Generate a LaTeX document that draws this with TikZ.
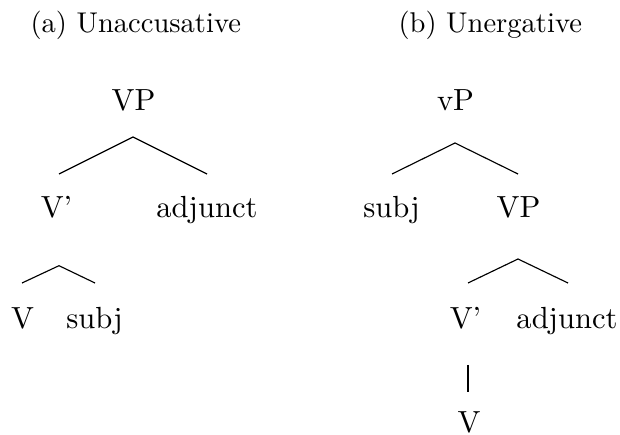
\documentclass[tikz,border=0pt]{standalone}
\usetikzlibrary{calc}
\begin{document}
\begin{tikzpicture}[x=0.35pt,y=-0.35pt,
  lab/.style={inner sep=0pt,anchor=base,font=\fontsize{10.7}{13}\selectfont},
  ttl/.style={inner sep=0pt,anchor=base west},
  branch/.style={draw=black,line width=0.4pt}]
\useasboundingbox (0,0) rectangle (620,435);
% titles
\node[ttl] (ta) at (30,33) {(a) Unaccusative};
\node[ttl] (tb) at (398,33) {(b) Unergative};
% tree (a)
\node[lab] (VPa) at (133.5,111) {VP};
\node[lab] (Vba) at (56.5,218) {V'};
\node[lab] (adja) at (207,218) {adjunct};
\node[lab] (Va) at (22.5,329) {V};
\node[lab] (subja) at (94.5,329) {subj};
\draw[branch] ($(Vba.base)+(2.5,-44)$) -- ($(VPa.base)+(-0.5,26)$) -- ($(adja.base)+(0,-44)$);
\draw[branch] ($(Va.base)+(-0.5,-46)$) -- ($(Vba.base)+(2.5,47.7)$) -- ($(subja.base)+(0.5,-46)$);
% tree (b)
\node[lab] (vPb) at (455.5,111) {vP};
\node[lab] (subjb) at (391.5,218) {subj};
\node[lab] (VPb) at (518.5,218) {VP};
\node[lab] (Vbb) at (465.5,329) {V'};
\node[lab] (adjb) at (567,329) {adjunct};
\node[lab] (Vb) at (469,433) {V};
\draw[branch] ($(subjb.base)+(0.5,-44)$) -- ($(vPb.base)+(-0.5,32)$) -- ($(VPb.base)+(-0.5,-44)$);
\draw[branch] ($(Vbb.base)+(2.5,-46)$) -- ($(VPb.base)+(-0.5,41)$) -- ($(adjb.base)+(1,-46)$);
\draw[branch] ($(Vbb.base)+(2.5,36)$) -- ($(Vb.base)+(-1,-41)$);
\end{tikzpicture}
\end{document}
